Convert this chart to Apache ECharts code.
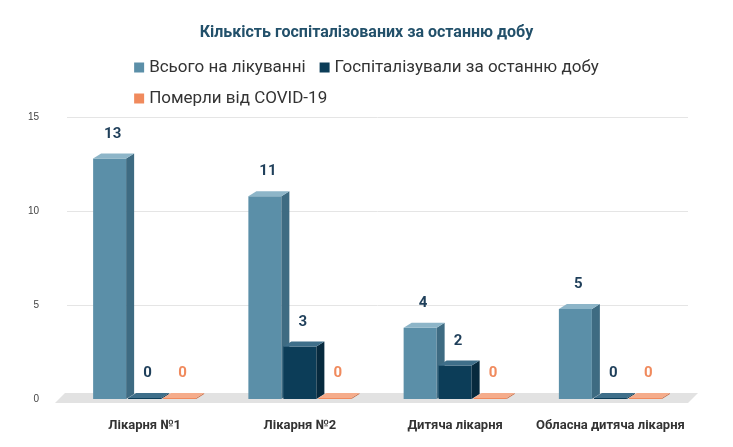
<!DOCTYPE html>
<html><head><meta charset="utf-8">
<script src="https://cdn.jsdelivr.net/npm/echarts@6/dist/echarts.min.js"></script>
<style>html,body{margin:0;background:#fff}#c{width:733px;height:447px}</style></head>
<body><div id="c"></div>
<script>
const categories = ['Лікарня №1','Лікарня №2','Дитяча лікарня','Обласна дитяча лікарня'];
const seriesNames = ['Всього на лікуванні','Госпіталізували за останню добу','Померли від COVID-19'];
const totalTreated = [13, 11, 4, 5];
const hospitalized = [0, 3, 2, 0];
const died = [0, 0, 0, 0];
const yTicks = [0, 5, 10, 15];

const styles = [
  {front:'#5b8fa8', side:'#3e6b82', top:'#8db5c8', label:'#1f3f5a', off:-35},
  {front:'#0c3d58', side:'#072a3e', top:'#3f6f8a', label:'#1f3f5a', off:0},
  {front:'#f08a5d', side:'#c9683e', top:'#f5ac8b', label:'#f08a5d', off:35}
];
const W = 33, D = 8, H = 5;

function cuboid(si){
  const s = styles[si];
  return function(params, api){
    const ci = api.value(0), v = api.value(1);
    const base = api.coord([ci, 0]), topP = api.coord([ci, v]);
    const x0 = base[0] + s.off - W/2, x1 = x0 + W;
    const yb = base[1], yt = Math.min(topP[1] + 4, yb - 1);
    return {type:'group', children:[
      {type:'rect', shape:{x:x0, y:yt, width:W, height:yb-yt}, style:{fill:s.front}},
      {type:'polygon', shape:{points:[[x1,yt],[x1+D,yt-H],[x1+D,yb-H],[x1,yb]]}, style:{fill:s.side}},
      {type:'polygon', shape:{points:[[x0,yt],[x0+D,yt-H],[x1+D,yt-H],[x1,yt]]}, style:{fill:s.top}},
      {type:'text', style:{text:String(v), x:x0+W/2+3, y:yt-H-12, align:'center', verticalAlign:'bottom',
        fill:s.label, font:'bold 15px Roboto, Arial, sans-serif'}}
    ]};
  };
}

const floorSeries = {
  type:'custom', silent:true, z:1, data:[[0,0]],
  renderItem:(p, api)=>{
    const a = api.coord([0,0]), b = api.coord([categories.length-1,0]);
    const band = api.size([1,0])[0];
    const l = a[0]-band/2 - 12, r = b[0]+band/2;
    return {type:'polygon', shape:{points:[[l,a[1]+4],[l+10,a[1]-6],[r+10,a[1]-6],[r,a[1]+4]]}, style:{fill:'#e2e2e2'}};
  }
};

const dataSets = [totalTreated, hospitalized, died];
const series = [floorSeries].concat(dataSets.map((arr, si)=>({
  type:'custom', name:seriesNames[si], z:2+si,
  itemStyle:{color:styles[si].front},
  data: arr.map((v,i)=>[i,v]),
  renderItem: cuboid(si)
})));

const chart = echarts.init(document.getElementById('c'));
chart.setOption({
  animation:false,
  title:{text:'Кількість госпіталізованих за останню добу', left:'center', top:20,
    textStyle:{color:'#22506a', fontSize:16, fontWeight:'bold', fontFamily:'Roboto, Arial, sans-serif'}},
  legend:{top:54, left:'center', width:560, itemWidth:10, itemHeight:10, itemGap:14, icon:'rect',
    textStyle:{fontSize:17, color:'#333', fontFamily:'Roboto, Arial, sans-serif'},
    data:seriesNames},
  grid:{left:67, right:45, top:117, bottom:48},
  xAxis:{type:'category', data:categories, axisLine:{show:false}, axisTick:{show:false},
    axisLabel:{fontSize:13, fontWeight:'bold', color:'#333', margin:20, interval:0, fontFamily:'Roboto, Arial, sans-serif'}},
  yAxis:{type:'value', min:yTicks[0], max:yTicks[yTicks.length-1], interval:5,
    axisLabel:{fontSize:10, color:'#444', margin:28},
    splitLine:{lineStyle:{color:'#e5e5e5'}}},
  series
});
</script></body></html>
